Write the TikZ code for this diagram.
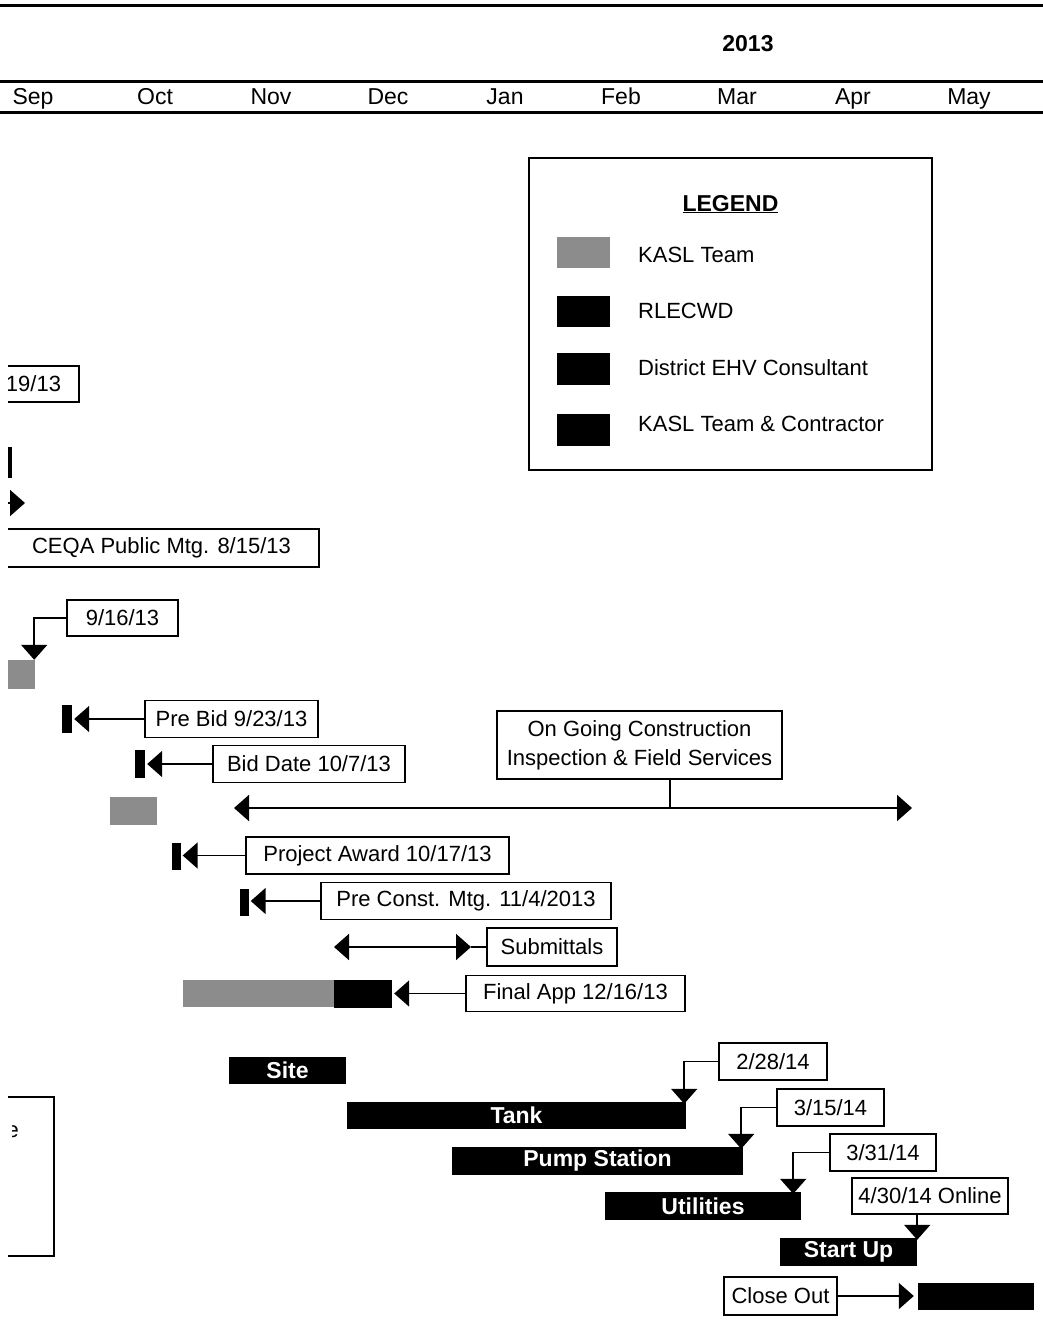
\documentclass[tikz,border=0pt]{standalone}
\usepackage{fontspec}
\setmainfont{Liberation Sans}
\usetikzlibrary{arrows.meta}
\begin{document}
\begin{tikzpicture}[x=1pt,y=-1pt,
  font=\fontsize{22}{29}\selectfont,
  box/.style={draw, line width=1.9pt, inner sep=0pt, fill=white, align=center},
  blk/.style={fill=black, inner sep=0pt},
  bar/.style={fill=black, text=white, inner sep=0pt, font=\bfseries\fontsize{23}{26}\selectfont},
  kasl/.style={fill=black!45, inner sep=0pt},
  con/.style={line width=1.9pt},
  tipr/.style={con, -{Triangle[length=15pt,width=26pt]}},
  tipb/.style={con, {Triangle[length=15pt,width=26pt]}-{Triangle[length=15pt,width=26pt]}},
  rule/.style={line width=3pt},
  month/.style={anchor=base, font=\fontsize{23}{26}\selectfont},
  legtxt/.style={anchor=base west, inner sep=0pt}
]
\useasboundingbox (0,0) rectangle (1043,1326);

% header rules
\draw[rule] (0,5) -- (1043,5);
\draw[rule] (0,81) -- (1043,81);
\draw[rule] (0,112) -- (1043,112);
\node[anchor=base, font=\bfseries\fontsize{23}{26}\selectfont] (yr) at (748,51) {2013};
\node[month] (mSep) at (33,104) {Sep};
\node[month] (mOct) at (155,104) {Oct};
\node[month] (mNov) at (271,104) {Nov};
\node[month] (mDec) at (388,104) {Dec};
\node[month] (mJan) at (505,104) {Jan};
\node[month] (mFeb) at (621,104) {Feb};
\node[month] (mMar) at (737,104) {Mar};
\node[month] (mApr) at (853,104) {Apr};
\node[month] (mMay) at (969,104) {May};

% legend
\node[draw, line width=1.9pt, minimum width=403pt, minimum height=312pt, inner sep=0pt] (legend) at (730.5,314) {};
\node[anchor=base, font=\bfseries\fontsize{23}{26}\selectfont] (legT) at (730.5,211) {\underline{LEGEND}};
\node[kasl, minimum width=53pt, minimum height=31pt] (sw1) at (583.5,252.5) {};
\node[blk, minimum width=53pt, minimum height=31pt] (sw2) at (583.5,311.5) {};
\node[blk, minimum width=53pt, minimum height=32pt] (sw3) at (583.5,369) {};
\node[blk, minimum width=53pt, minimum height=32pt] (sw4) at (583.5,430) {};
\node[legtxt] (lt1) at (638,262) {KASL Team};
\node[legtxt] (lt2) at (638,318) {RLECWD};
\node[legtxt] (lt3) at (638,375) {District EHV Consultant};
\node[legtxt] (lt4) at (638,431) {KASL Team \& Contractor};

% items cut at the left edge
\begin{scope}
\clip (8,0) rectangle (1043,1326);
\node[box, anchor=east, minimum height=36pt, text width=140pt, align=right, inner xsep=18pt] (b1913) at (80,384) {19/13};
\node[blk, minimum width=4pt, minimum height=31pt] (vbar) at (10,462.5) {};
\coordinate (ceqaIn) at (-20,503);
\coordinate (ceqaTip) at (25,503);
\draw[tipr] (ceqaIn) -- (ceqaTip);
\node[box, minimum width=315pt, minimum height=38pt] (ceqa) at (161.5,548) {CEQA Public Mtg. 8/15/13};
\node[kasl, minimum width=28pt, minimum height=29pt] (sq1) at (21,674.5) {};
\node[draw, line width=1.9pt, anchor=north east, minimum width=150pt, minimum height=159pt, inner sep=0pt] (ebox) at (55,1096) {};
\end{scope}
\begin{scope}
\clip (12,1100) rectangle (40,1150);
\node[anchor=base east, inner sep=0pt] (etxt) at (19,1137) {e};
\end{scope}

% 9/16/13
\node[box, minimum width=111pt, minimum height=36pt] (d916) at (122.5,618) {9/16/13};
\draw[tipr] (d916.west) -| ([xshift=-1pt]sq1.north east);

% Pre Bid
\node[box, minimum width=173pt, minimum height=37pt] (pb) at (231.5,719) {Pre Bid 9/23/13};
\node[blk, minimum width=10pt, minimum height=28pt] (pbm) at (67,719) {};
\draw[tipr] (pb.west) -- ([xshift=2pt]pbm.east |- pb.west);

% Bid Date
\node[box, minimum width=192pt, minimum height=37pt] (bd) at (309,764) {Bid Date 10/7/13};
\node[blk, minimum width=10pt, minimum height=28pt] (bdm) at (140,764) {};
\draw[tipr] (bd.west) -- ([xshift=2pt]bdm.east |- bd.west);
\node[kasl, minimum width=47pt, minimum height=28pt] (sq2) at (133.5,811) {};

% On going construction
\node[box, minimum width=285pt, minimum height=68pt] (og) at (639.5,745) {On Going Construction\\Inspection \& Field Services};
\coordinate (ogL) at (234,808);
\coordinate (ogR) at (912,808);
\coordinate (ogJ) at (670,808);
\draw[tipb] (ogL) -- (ogR);
\draw[con] (og.south -| ogJ) -- (ogJ);

% Project Award
\node[box, minimum width=263pt, minimum height=37pt] (pa) at (377.5,855.5) {Project Award 10/17/13};
\node[blk, minimum width=9pt, minimum height=27pt] (pam) at (176,856.5) {};
\draw[tipr] (pa.west) -- ([xshift=2pt]pam.east |- pa.west);

% Pre Const
\node[box, minimum width=290pt, minimum height=37pt] (pc) at (466,901) {Pre Const. Mtg. 11/4/2013};
\node[blk, minimum width=9pt, minimum height=27pt] (pcm) at (244,902) {};
\draw[tipr] (pc.west) -- ([xshift=2pt]pcm.east |- pc.west);

% Submittals
\node[box, minimum width=130pt, minimum height=38pt] (sub) at (552,947) {Submittals};
\coordinate (sL) at (334,947);
\coordinate (sR) at (471,947);
\draw[tipb] (sL) -- (sR);
\draw[con] (sub.west) -- (sR);

% Final App
\node[kasl, minimum width=151pt, minimum height=27pt] (fag) at (258.5,993.5) {};
\node[blk, minimum width=58pt, minimum height=28pt] (fab) at (363,994) {};
\node[box, minimum width=219pt, minimum height=36pt] (fa) at (575.5,993.5) {Final App 12/16/13};
\draw[tipr] (fa.west) -- ([xshift=2pt]fab.east |- fa.west);

% construction bars
\node[bar, minimum width=117pt, minimum height=27pt] (site) at (287.5,1070.5) {Site};
\node[bar, minimum width=339pt, minimum height=27pt] (tank) at (516.5,1115.5) {Tank};
\node[bar, minimum width=291pt, minimum height=28pt] (pump) at (597.5,1161) {Pump Station};
\node[bar, minimum width=196pt, minimum height=28pt] (util) at (703,1206) {Utilities};
\node[bar, minimum width=137pt, minimum height=28pt] (su) at (848.5,1252) {Start Up};
\node[blk, minimum width=116pt, minimum height=27pt] (cob) at (976,1296.5) {};

% date callouts
\node[box, minimum width=108pt, minimum height=37pt] (d1) at (773,1061.5) {2/28/14};
\draw[tipr] (d1.west) -| ([xshift=-2pt,yshift=-2pt]tank.north east);
\node[box, minimum width=107pt, minimum height=37pt] (d2) at (830.5,1107.5) {3/15/14};
\draw[tipr] (d2.west) -| ([xshift=-2pt,yshift=-2pt]pump.north east);
\node[box, minimum width=106pt, minimum height=37pt] (d3) at (883,1152.5) {3/31/14};
\draw[tipr] (d3.west) -| ([xshift=-8pt,yshift=-2pt]util.north east);
\node[box, minimum width=156pt, minimum height=36pt] (d4) at (930,1196) {4/30/14 Online};
\draw[tipr] (d4.south -| su.north east) -- ([yshift=-2pt]su.north east);

% close out
\node[box, minimum width=113pt, minimum height=38pt] (co) at (780.5,1296) {Close Out};
\draw[tipr] (co.east) -- ([xshift=-4pt]cob.west |- co.east);
\end{tikzpicture}
\end{document}
